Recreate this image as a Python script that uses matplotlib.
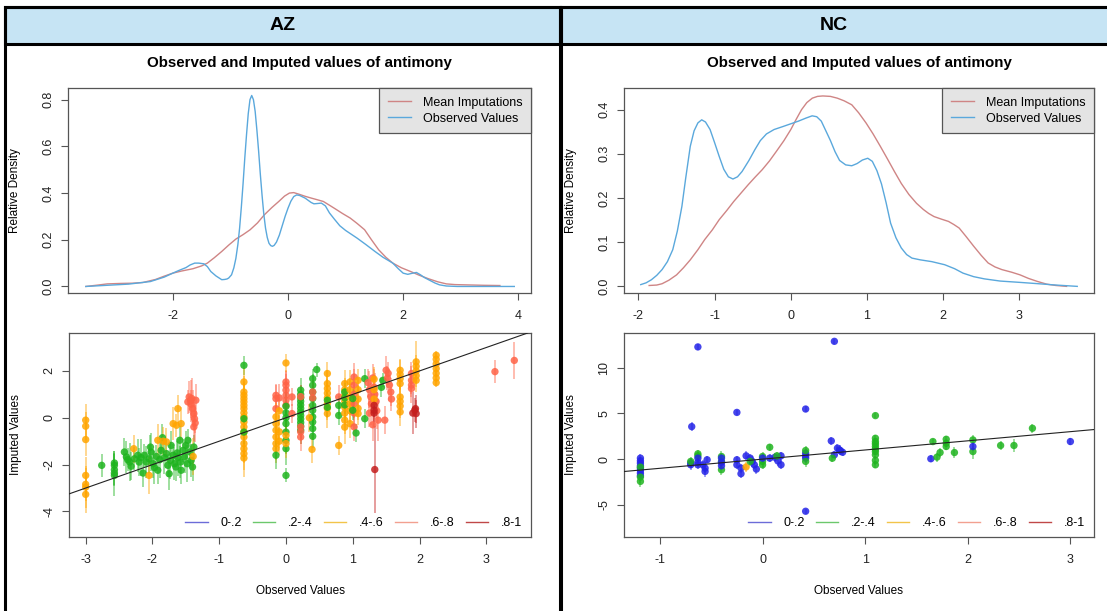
import numpy as np
import matplotlib.pyplot as plt
from matplotlib.patches import Rectangle
from matplotlib.lines import Line2D

plt.rcParams['font.family'] = ['Liberation Sans', 'DejaVu Sans']
plt.rcParams['axes.unicode_minus'] = False

# ---------------- density curves ----------------
az_obs_dx = [-3.51, -2.77, -2.39, -2.15, -2.0, -1.9, -1.77, -1.70, -1.62, -1.55, -1.46, -1.40,
             -1.34, -1.25, -1.15, -1.10, -1.06, -1.03, -0.98, -0.94, -0.905, -0.87, -0.84, -0.81,
             -0.78, -0.75, -0.72, -0.69, -0.66, -0.63, -0.60, -0.57, -0.54, -0.51, -0.48, -0.45,
             -0.42, -0.39, -0.36, -0.33, -0.30, -0.27, -0.24, -0.20, -0.15, -0.10, -0.05, 0.0,
             0.05, 0.10, 0.15, 0.20, 0.30, 0.40, 0.45, 0.50, 0.58, 0.65, 0.72, 0.80, 0.90, 1.0,
             1.2, 1.35, 1.51, 1.65, 1.82, 1.92, 2.0, 2.08, 2.15, 2.23, 2.30, 2.37, 2.44, 2.55,
             2.63, 2.75, 2.94, 3.93]
az_obs_dy = [0.0, 0.01, 0.021, 0.04, 0.057, 0.068, 0.081, 0.092, 0.1, 0.1, 0.097, 0.085,
             0.064, 0.045, 0.029, 0.03, 0.032, 0.036, 0.05, 0.08, 0.12, 0.18, 0.25, 0.34,
             0.44, 0.55, 0.65, 0.74, 0.80, 0.818, 0.80, 0.75, 0.67, 0.58, 0.48, 0.39,
             0.31, 0.25, 0.21, 0.185, 0.175, 0.172, 0.176, 0.19, 0.22, 0.26, 0.30, 0.335,
             0.365, 0.385, 0.392, 0.39, 0.378, 0.36, 0.354, 0.355, 0.357, 0.345, 0.315, 0.29, 0.26, 0.24,
             0.207, 0.18, 0.15, 0.125, 0.10, 0.075, 0.057, 0.052, 0.056, 0.06, 0.05, 0.038, 0.029, 0.015,
             0.007, 0.002, 0.0, 0.0]
az_imp_dx = [-3.51, -3.3, -3.14, -2.9, -2.7, -2.52, -2.3, -2.15, -2.0, -1.85, -1.65, -1.5, -1.40,
             -1.28, -1.15, -1.03, -0.905, -0.78, -0.657, -0.53, -0.41, -0.28, -0.16, -0.06, 0.025,
             0.1, 0.18, 0.3, 0.397, 0.5, 0.614, 0.72, 0.83, 0.95, 1.08, 1.2, 1.33, 1.45, 1.575,
             1.7, 1.82, 1.97, 2.13, 2.28, 2.44, 2.6, 2.75, 2.9, 3.06, 3.4, 3.68]
az_imp_dy = [0.0, 0.006, 0.011, 0.013, 0.014, 0.017, 0.03, 0.044, 0.057, 0.066, 0.076, 0.088, 0.1,
             0.123, 0.15, 0.177, 0.203, 0.222, 0.243, 0.272, 0.307, 0.338, 0.364, 0.387, 0.4,
             0.402, 0.396, 0.386, 0.379, 0.372, 0.364, 0.348, 0.331, 0.312, 0.293, 0.27, 0.243, 0.2, 0.157,
             0.125, 0.1, 0.08, 0.064, 0.048, 0.033, 0.02, 0.011, 0.008, 0.007, 0.005, 0.004]

nc_obs_dx = [-1.97, -1.90, -1.83, -1.76, -1.69, -1.62, -1.55, -1.49, -1.43, -1.38, -1.32, -1.27,
             -1.22, -1.17, -1.12, -1.06, -1.0, -0.94, -0.88, -0.82, -0.76, -0.70, -0.64, -0.55,
             -0.47, -0.40, -0.32, -0.22, -0.1, 0.0, 0.1, 0.2, 0.28, 0.34, 0.40, 0.46, 0.52, 0.58,
             0.64, 0.72, 0.80, 0.87, 0.94, 1.01, 1.07, 1.13, 1.19, 1.25, 1.31, 1.38, 1.45, 1.52,
             1.59, 1.7, 1.85, 2.02, 2.15, 2.26, 2.4, 2.54, 2.75, 3.01, 3.25, 3.48, 3.76]
nc_obs_dy = [0.004, 0.008, 0.015, 0.025, 0.038, 0.056, 0.083, 0.125, 0.181, 0.245, 0.317, 0.352,
             0.370, 0.377, 0.372, 0.355, 0.325, 0.294, 0.265, 0.248, 0.243, 0.248, 0.26, 0.285,
             0.31, 0.33, 0.345, 0.355, 0.362, 0.368, 0.374, 0.381, 0.386, 0.384, 0.374, 0.352, 0.33, 0.305,
             0.285, 0.275, 0.273, 0.278, 0.286, 0.29, 0.283, 0.262, 0.232, 0.19, 0.143, 0.11, 0.087, 0.072,
             0.064, 0.06, 0.056, 0.049, 0.04, 0.030, 0.022, 0.017, 0.012, 0.009, 0.006, 0.003, 0.0]
nc_imp_dx = [-1.86, -1.76, -1.69, -1.60, -1.50, -1.41, -1.32, -1.22, -1.13, -1.03, -0.94, -0.84,
             -0.75, -0.65, -0.56, -0.47, -0.376, -0.28, -0.188, -0.09, 0.0, 0.07, 0.141, 0.21, 0.282,
             0.35, 0.42, 0.52, 0.61, 0.70, 0.80, 0.89, 0.987, 1.08, 1.175, 1.27, 1.36, 1.45, 1.55,
             1.65, 1.74, 1.81, 1.88, 1.98, 2.07, 2.14, 2.21, 2.30, 2.40, 2.50, 2.59, 2.68, 2.77,
             2.9, 3.01, 3.12, 3.24, 3.36, 3.48, 3.62]
nc_imp_dy = [0.002, 0.003, 0.006, 0.014, 0.026, 0.042, 0.06, 0.083, 0.106, 0.128, 0.151, 0.172,
             0.192, 0.212, 0.23, 0.247, 0.264, 0.284, 0.306, 0.33, 0.355, 0.378, 0.40, 0.416, 0.426,
             0.43, 0.431, 0.43, 0.426, 0.42, 0.411, 0.393, 0.37, 0.345, 0.317, 0.288, 0.26, 0.233, 0.208,
             0.188, 0.174, 0.165, 0.158, 0.152, 0.147, 0.14, 0.132, 0.113, 0.091, 0.07, 0.053, 0.044, 0.038,
             0.032, 0.026, 0.018, 0.011, 0.005, 0.002, 0.0]

# ---------------- overimputation points: observed, mean imputed, CI half width, group ----------------
# group: 0 = 0-.2, 1 = .2-.4, 2 = .4-.6, 3 = .6-.8, 4 = .8-1
az_obs = ([-3.0] * 7 + [-2.76] + [-2.57] * 5 +
          [-2.42, -2.39, -2.37, -2.34, -2.32, -2.27, -2.22, -2.20, -2.17, -2.14, -2.12, -2.09, -2.05,
           -2.03, -2.02, -1.99, -1.97, -1.94, -1.92, -1.89, -1.87, -1.85, -1.82, -1.79, -1.77, -1.75,
           -1.73, -1.72, -1.69, -1.67, -1.65, -1.63, -1.62, -1.59, -1.58, -1.57, -1.54, -1.52, -1.50,
           -1.48, -1.47, -1.44, -1.42, -1.40, -1.38] +
          [-2.28, -1.92, -2.05, -1.79, -1.69, -1.62, -1.64, -1.57, -1.84, -1.39] +
          [-1.45, -1.43, -1.42, -1.40, -1.38, -1.37, -1.36, -1.38, -1.41, -1.35, -1.47] +
          [-0.63] * 20 + [-0.15] * 10 + [-0.10] * 4 + [0.0] * 17 + [0.09] * 2 + [0.22] * 16 +
          [0.46] + [0.40] * 12 + [0.35, 0.39] + [0.62] * 10 + [0.79] * 4 + [0.88] * 11 +
          [0.96] * 6 + [1.02] * 6 + [1.08] * 5 + [1.0, 1.0, 1.18, 1.18, 1.05] +
          [1.23, 1.25, 1.27, 1.28, 1.30, 1.32, 1.33, 1.35, 1.36, 1.38, 1.25, 1.30] +
          [1.32] * 3 + [1.32] * 3 + [1.33] + [1.45, 1.43] +
          [1.50, 1.52, 1.55, 1.57, 1.58, 1.48, 1.53] + [1.71] * 8 + [1.88] * 4 + [1.95] * 5 +
          [1.90, 1.94, 1.95, 1.93] + [2.25] * 7 + [3.13, 3.42])
az_imp = ([-0.10, -0.36, -0.93, -2.46, -2.84, -2.96, -3.27] + [-2.03] +
          [-1.93, -2.03, -2.22, -2.36, -2.46] +
          [-1.46, -1.67, -1.79, -1.89, -2.07, -1.75, -1.60, -1.89, -1.70, -2.36, -1.60, -1.89, -1.75,
           -1.25, -1.46, -1.96, -2.13, -1.65, -2.24, -1.79, -1.39, -0.85, -1.70, -1.53, -2.03, -2.39,
           -1.82, -1.18, -1.60, -1.96, -2.10, -1.50, -1.70, -0.96, -1.89, -2.24, -1.39, -1.67, -1.18,
           -1.96, -0.96, -1.46, -1.82, -2.10, -1.25] +
          [-1.32, -0.96, -2.46, -1.03, -0.25, 0.39, -0.32, -0.25, -1.00, -1.65] +
          [0.89, 0.72, 0.58, 0.39, 0.18, -0.04, -0.22, -0.39, 0.82, 0.75, 0.68] +
          [2.24, 1.53, 1.10, 0.96, 0.82, 0.68, 0.53, 0.39, 0.21, 0.04, -0.18, -0.39, -0.61, -0.82,
           -1.10, -1.32, -1.53, -1.72, -0.04, -0.61] +
          [0.96, 0.82, 0.39, 0.04, -0.25, -0.53, -0.82, -1.10, -1.32, -1.60] +
          [0.30, -0.60, -1.00, 0.85] +
          [1.53, 1.39, 1.18, 0.96, 0.75, 0.53, 0.49, 0.21, 0.0, -0.25, -0.61, -0.96, -1.32, -2.46,
           2.34, -0.75, -1.10] +
          [0.89, 0.18] +
          [1.18, 1.00, 0.85, 0.70, 0.55, 0.40, 0.25, 0.10, -0.05, -0.20, -0.35, -0.53,
           -0.39, -0.60, -0.82, 0.90] +
          [2.06] + [1.67, 1.39, 1.10, 0.82, 0.53, 0.32, 0.04, -0.18, -0.46, -0.79, 1.10, 0.85] +
          [0.0, -1.35] +
          [1.89, 1.46, 1.25, 1.05, 0.85, 0.60, 0.40, 0.18, 0.75, 0.45] +
          [-1.18, 0.89, 0.53, 0.10] +
          [1.46, 1.20, 0.95, 0.70, 0.45, 0.20, -0.10, -0.40, 1.10, 0.85, 0.55] +
          [1.53, 1.20, 0.90, 0.60, 0.30, -0.25] + [1.74, 1.40, 1.00, 0.60, 0.20, -0.39] +
          [1.60, 1.20, 0.80, 0.40, 0.18] + [0.32, 0.82, 1.67, -0.04, -0.65] +
          [1.5, 1.2, 0.9, 0.6, 1.7, 1.3, 1.0, 0.7, 0.3, -0.1, 0.2, -0.3] +
          [1.65, 1.20, 0.80] + [0.53, 0.32, 0.20] + [-2.21] + [1.60, 1.30] +
          [2.03, 1.70, 1.40, 1.10, 0.80, -0.10, 1.90] +
          [2.03, 1.85, 1.67, 1.46, 0.89, 0.70, 0.50, 0.25] + [1.89, 1.60, 1.40, 1.25] +
          [2.39, 2.20, 2.00, 1.80, 1.60] + [0.20, 0.39, 0.18, 0.33] +
          [2.67, 2.50, 2.30, 2.10, 1.90, 1.70, 1.50] + [1.97, 2.45])
az_half = ([0.7, 0.6, 0.7, 0.8, 0.7, 0.9, 0.8] + [0.5] + [0.5, 0.6, 0.7, 0.5, 0.9] +
           [0.6, 0.7, 0.5, 0.8, 0.6, 0.5, 0.7, 0.6, 0.8, 0.6, 0.5, 0.7, 0.6, 0.5, 0.8, 0.6, 0.7,
            0.5, 0.6, 0.8, 0.5, 0.6, 0.7, 0.6, 0.5, 0.7, 0.8, 0.6, 0.5, 0.7, 0.6, 0.5, 0.8, 0.6,
            0.7, 0.6, 0.5, 0.7, 0.6, 0.8, 0.5, 0.6, 0.7, 0.6, 0.5] +
           [0.6, 0.7, 0.8, 0.6, 0.7, 0.6, 0.5, 0.7, 0.6, 0.8] +
           [0.7, 0.9, 0.6, 0.8, 0.7, 0.6, 0.8, 0.6, 0.9, 0.7, 0.5] +
           [0.4, 0.6, 0.7, 0.6, 0.7, 0.8, 0.6, 0.7, 0.6, 0.8, 0.7, 0.6, 0.7, 0.8, 0.7, 0.6, 0.7,
            0.8, 0.5, 0.5] +
           [0.5, 0.6, 0.5, 0.6, 0.7, 0.6, 0.5, 0.7, 0.6, 0.6] +
           [0.6, 0.7, 0.6, 0.6] +
           [0.5, 0.6, 0.7, 0.6, 0.5, 0.6, 0.6, 0.5, 0.7, 0.6, 0.5, 0.6, 0.7, 0.3, 0.4, 0.6, 0.6] +
           [0.4, 0.4] +
           [0.5, 0.4, 0.5, 0.6, 0.5, 0.4, 0.5, 0.6, 0.5, 0.4, 0.5, 0.6, 0.5, 0.5, 0.6, 0.5] +
           [0.3] + [0.4, 0.5, 0.5, 0.4, 0.5, 0.6, 0.5, 0.4, 0.5, 0.5, 0.5, 0.6] + [0.6, 0.6] +
           [0.5, 0.6, 0.5, 0.6, 0.5, 0.6, 0.5, 0.6, 0.4, 0.4] +
           [0.4, 0.5, 0.4, 0.4] +
           [0.6, 0.5, 0.6, 0.7, 0.6, 0.5, 0.6, 0.7, 0.4, 0.4, 0.4] +
           [0.5, 0.5, 0.6, 0.5, 0.5, 0.6] + [0.6, 0.7, 0.6, 0.6, 0.7, 0.6] +
           [0.5, 0.5, 0.6, 0.5, 0.5] + [0.4, 0.4, 0.4, 0.4, 0.4] +
           [0.6, 0.8, 0.7, 0.9, 0.6, 0.8, 0.9, 0.7, 0.8, 0.9, 0.6, 0.7] +
           [0.5, 0.5, 0.5] + [0.5, 0.5, 0.6] + [1.85] + [0.3, 0.4] +
           [0.6, 0.5, 0.7, 0.6, 0.5, 0.6, 0.5] +
           [0.5, 0.6, 0.5, 0.4, 0.5, 0.6, 0.5, 0.6] + [0.5, 0.6, 0.5, 0.6] +
           [0.9, 0.5, 0.5, 0.5, 0.5] + [0.9, 0.6, 0.6, 0.5] +
           [0.2, 0.3, 0.2, 0.3, 0.2, 0.3, 0.2] + [0.5, 0.8])
az_grp = ([2] * 7 + [1] + [1] * 5 + [1] * 45 + [2] * 10 + [3] * 11 +
          [1] + [2] * 17 + [1, 1] +
          [3] * 3 + [2] * 6 + [1] +
          [2] * 3 + [3] +
          [3] * 6 + [1] * 7 + [1] + [2] + [2] * 2 +
          [3] * 2 +
          [1] * 12 + [3] * 4 +
          [1] + [1] * 10 + [3] * 2 + [2, 2] +
          [2] * 8 + [1] * 2 +
          [2, 3, 1, 1] +
          [2] * 8 + [1] * 3 +
          [2] * 6 + [3] * 6 + [2] * 5 + [1] * 5 +
          [3] * 12 + [2] * 3 + [4] * 3 + [4] + [1, 1] +
          [3] * 7 + [2] * 8 + [3] * 4 + [2] * 5 + [4] * 4 + [2] * 7 + [3, 3])

nc_obs = ([-1.19] * 11 +
          [-0.69, -0.63, -0.70, -0.70, -0.70, -0.63, -0.63, -0.63, -0.63, -0.63,
           -0.58, -0.56, -0.56, -0.54, -0.40, -0.40, -0.40, -0.40, -0.40, -0.40,
           -0.25, -0.25, -0.25, -0.21, -0.21, -0.16, -0.16, -0.12, -0.10, -0.08, -0.06, -0.12,
           0.0, 0.0, 0.0, 0.0, 0.07, 0.07, 0.12, 0.15, 0.18, 0.18, 0.14,
           0.42, 0.42, 0.42, 0.42, 0.42, 0.42, 0.42, 0.67, 0.70, 0.70, 0.68,
           0.73, 0.75, 0.76, 0.78] +
          [1.10] * 10 +
          [1.64, 1.66, 1.70, 1.73, 1.79, 1.79, 1.79, 1.87, 2.05, 2.05, 2.05, 2.32, 2.45, 2.63, 3.00])
nc_imp = ([0.11, -0.18, -0.43, -0.72, -0.98, -1.23, -1.52, -1.81, -0.87, -1.96, -2.43] +
          [3.55, 12.25, -0.43, -0.62, -0.25, 0.58, 0.36, 0.11, -0.36, -0.62,
           -0.62, -1.34, -0.98, -0.07, 0.29, -0.25, -1.16, 0.11, -0.36, -0.72,
           5.10, -0.62, -0.07, -1.59, -0.98, -0.85, 0.36, 0.11, -0.25, -0.62, -1.09, -0.25,
           0.29, -0.25, -0.62, 0.11, 1.30, 0.11, 0.20, -0.20, 0.36, -0.62, 0.36,
           5.47, 0.65, 0.36, 0.11, -5.69, 0.94, -0.25, 1.99, 12.86, 0.47, 0.10,
           1.20, 1.00, 0.90, 0.75] +
          [4.75, 2.28, 1.92, 1.67, 1.38, 1.09, 0.83, 0.47, -0.14, -0.62] +
          [0.04, 1.92, 0.22, 0.72, 2.17, 1.74, 1.38, 0.72, 2.10, 0.83, 1.38, 1.49, 1.49, 3.37, 1.92])
nc_half = ([0.4, 0.4, 0.5, 0.4, 0.5, 0.4, 0.5, 0.5, 0.5, 0.6, 0.6] +
           [0.5, 0.3, 0.5, 0.6, 0.5, 0.4, 0.4, 0.5, 0.5, 0.5,
            0.5, 0.6, 0.5, 0.4, 0.6, 0.6, 0.6, 0.5, 0.5, 0.5,
            0.3, 0.5, 0.4, 0.5, 0.5, 0.5, 0.5, 0.5, 0.6, 0.5, 0.5, 0.5,
            0.5, 0.6, 0.5, 0.5, 0.4, 0.4, 0.5, 0.5, 0.4, 0.5, 0.4,
            0.3, 0.5, 0.5, 0.5, 0.3, 0.5, 0.6, 0.4, 0.3, 0.4, 0.4,
            0.5, 0.5, 0.4, 0.4] +
           [0.3, 0.4, 0.4, 0.5, 0.5, 0.5, 0.4, 0.5, 0.5, 0.4] +
           [0.4, 0.3, 0.5, 0.5, 0.4, 0.4, 0.4, 0.6, 0.5, 0.8, 0.5, 0.5, 0.7, 0.5, 0.4])
nc_grp = ([0] * 8 + [1] * 3 +
          [0, 0, 0, 0, 1, 1, 1, 0, 0, 0,
           0, 0, 0, 0, 1, 1, 1, 0, 0, 0,
           0, 0, 0, 0, 0, 2, 0, 0, 0, 0, 0, 1,
           1, 1, 1, 0, 1, 0, 0, 0, 0, 0, 1,
           0, 0, 0, 0, 0, 1, 1, 0, 0, 0, 1,
           0, 0, 0, 0] +
          [1] * 10 +
          [0, 1, 1, 1, 1, 1, 1, 1, 1, 1, 0, 1, 1, 1, 0])

grp_labels = ['0-.2', '.2-.4', '.4-.6', '.6-.8', '.8-1']
pt_colors = ['#2424e8', '#1fb41f', '#ffa500', '#ff6347', '#c41e1e']
leg_colors = ['#6c6cd8', '#6cc86c', '#f2c44a', '#f2a090', '#c04848']
imp_col = '#cf8585'
obs_col = '#5aa8dc'

W, H = 1107, 611
fig = plt.figure(figsize=(W / 100, H / 100), dpi=100)


def px_box(x0, y0, x1, y1):
    return [x0 / W, 1 - y1 / H, (x1 - x0) / W, (y1 - y0) / H]


def fx(x):
    return x / W


def fy(y):
    return 1 - y / H


def style(ax, xlim, ylim, xticks, yticks, yfmt):
    ax.set_xlim(xlim)
    ax.set_ylim(ylim)
    ax.set_xticks(xticks)
    ax.set_xticklabels([f'{v:g}' for v in xticks])
    ax.set_yticks(yticks)
    ax.set_yticklabels([yfmt.format(v) for v in yticks], rotation=90, va='center')
    ax.tick_params(direction='out', length=5, width=0.8, color='#555555',
                   labelsize=9, pad=7, labelcolor='#222222')
    ax.tick_params(axis='y', pad=5)
    for s in ax.spines.values():
        s.set_color('#555555')
        s.set_linewidth(0.9)


panels = [
    dict(name='AZ', x0=5, x1=560, dens=[68, 88, 531, 293], scat=[69, 333, 531, 537],
         dxlim=(-3.82, 4.22), dylim=(-0.028, 0.85), dxt=[-2, 0, 2, 4], dyt=[0.0, 0.2, 0.4, 0.6, 0.8],
         obs=(az_obs_dx, az_obs_dy), imp=(az_imp_dx, az_imp_dy),
         sxlim=(-3.25, 3.67), sylim=(-5.09, 3.62), sxt=[-3, -2, -1, 0, 1, 2, 3], syt=[-4, -2, 0, 2],
         pts=(az_obs, az_imp, az_half, az_grp)),
    dict(name='NC', x0=561, x1=1112, dens=[624, 88, 1094, 293], scat=[624, 333, 1094, 537],
         dxlim=(-2.19, 3.98), dylim=(-0.015, 0.449), dxt=[-2, -1, 0, 1, 2, 3], dyt=[0.0, 0.1, 0.2, 0.3, 0.4],
         obs=(nc_obs_dx, nc_obs_dy), imp=(nc_imp_dx, nc_imp_dy),
         sxlim=(-1.35, 3.23), sylim=(-8.5, 13.77), sxt=[-1, 0, 1, 2, 3], syt=[-5, 0, 5, 10],
         pts=(nc_obs, nc_imp, nc_half, nc_grp)),
]

for p in panels:
    # header band and frame
    fig.add_artist(Rectangle((fx(p['x0']), fy(44)), fx(p['x1'] - p['x0']), (44 - 7) / H,
                             transform=fig.transFigure, facecolor='#c6e4f4', edgecolor='black',
                             linewidth=2.2, zorder=1))
    fig.add_artist(Rectangle((fx(p['x0']), fy(640)), fx(p['x1'] - p['x0']), (640 - 7) / H,
                             transform=fig.transFigure, facecolor='none', edgecolor='black',
                             linewidth=2.2, zorder=2))
    fig.text(fx((p['x0'] + min(p['x1'], 1107)) / 2), fy(26), p['name'], ha='center', va='center',
             fontsize=14, fontweight='bold')

    # density comparison
    d = p['dens']
    ax = fig.add_axes(px_box(*d))
    ax.plot(*p['imp'], color=imp_col, lw=1.0, label='Mean Imputations')
    ax.plot(*p['obs'], color=obs_col, lw=1.0, label='Observed Values')
    style(ax, p['dxlim'], p['dylim'], p['dxt'], p['dyt'], '{:.1f}')
    leg = ax.legend(loc='upper right', fontsize=9, frameon=True, fancybox=False,
                    facecolor='#e4e4e4', edgecolor='#555555', framealpha=1, borderaxespad=0,
                    handlelength=1.85, handletextpad=0.95, labelspacing=0.3, borderpad=0.7)
    leg.get_frame().set_linewidth(0.9)
    fig.text(fx((d[0] + d[2]) / 2), fy(63), 'Observed and Imputed values of antimony',
             ha='center', va='center', fontsize=10.9, fontweight='bold')
    fig.text(fx(d[0] - 53), fy((d[1] + d[3]) / 2), 'Relative Density', rotation=90,
             ha='center', va='center', fontsize=8.5)

    # overimputation plot
    s = p['scat']
    ax2 = fig.add_axes(px_box(*s))
    obs, imp, half, grp = (np.asarray(v) for v in p['pts'])
    cols = np.array(pt_colors)[grp]
    ax2.vlines(obs, imp - half, imp + half, colors=cols, linewidth=1.1, alpha=0.55, zorder=2)
    ax2.scatter(obs, imp, s=28, c=cols, alpha=0.85, linewidths=0, zorder=3)
    ax2.axline((0, 0), slope=1, color='#222222', lw=0.8, zorder=4)
    style(ax2, p['sxlim'], p['sylim'], p['sxt'], p['syt'], '{:g}')
    handles = [Line2D([], [], color=c, lw=1.0) for c in leg_colors]
    w = s[2] - s[0]
    h = s[3] - s[1]
    ax2.legend(handles, grp_labels, loc='lower right', ncol=5, frameon=False, fontsize=9,
               bbox_to_anchor=(1 - 9 / w, 8 / h), borderaxespad=0, borderpad=0,
               handlelength=1.8, handletextpad=1.0, columnspacing=0.9)
    fig.text(fx((s[0] + s[2]) / 2), fy(591), 'Observed Values', ha='center', va='center', fontsize=8.5)
    fig.text(fx(s[0] - 53), fy((s[1] + s[3]) / 2), 'Imputed Values', rotation=90,
             ha='center', va='center', fontsize=8.5)

fig.savefig('out.png', dpi=100)
